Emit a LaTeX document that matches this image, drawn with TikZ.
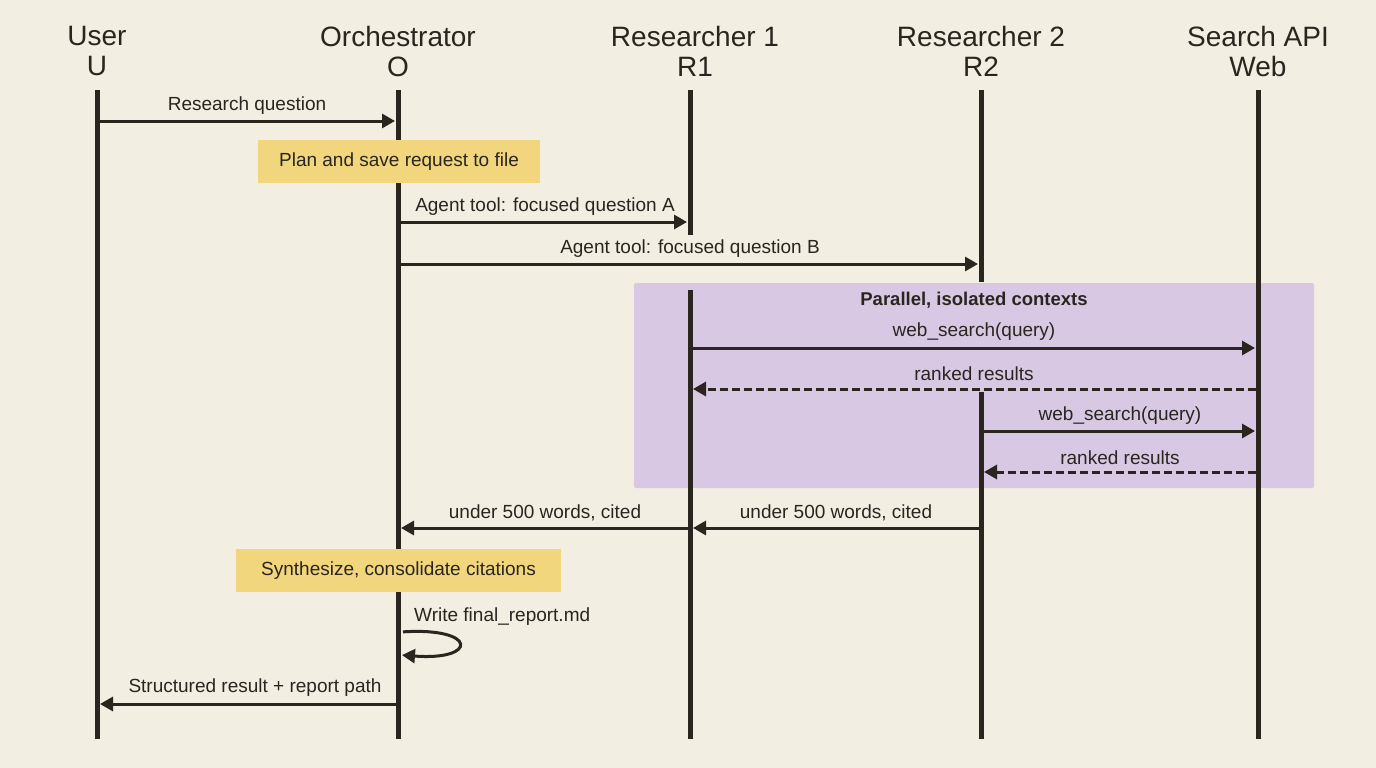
\documentclass[tikz,border=0pt]{standalone}
\usepackage{fontspec}
\setmainfont{Liberation Sans}
\usetikzlibrary{arrows.meta}
\definecolor{bg}{HTML}{F3EEE2}
\definecolor{ink}{HTML}{2A251F}
\definecolor{note}{HTML}{F2D67E}
\definecolor{par}{HTML}{D8C8E4}
\begin{document}
\begin{tikzpicture}[x=1pt,y=-1pt,
  life/.style={line width=5pt,draw=ink},
  head/.style={font=\fontsize{28}{30}\selectfont,text=ink,align=center},
  lbl/.style={font=\fontsize{19}{21}\selectfont,text=ink,inner sep=0pt},
  msg/.style={line width=3pt,draw=ink,-{Triangle[length=13pt,width=14pt]},shorten >=3pt,shorten <=2pt},
  ret/.style={msg,dash pattern=on 8pt off 4pt},
  notebox/.style={fill=note,font=\fontsize{19}{21}\selectfont,text=ink,inner sep=0pt}]
\fill[bg] (0,0) rectangle (1376,768);
\useasboundingbox (0,0) rectangle (1376,768);
% purple
\fill[par,rounded corners=2pt] (634,283) rectangle (1314,488);
\node[lbl,font=\fontsize{18.5}{20}\selectfont\bfseries] (ptitle) at (974,300) {Parallel, isolated contexts};
% headers
\node[head] (hU) at (97,51) {User\\U};
\node[head] (hO) at (398,51) {Orchestrator\\O};
\node[head] (hR1) at (695,51) {Researcher 1\\R1};
\node[head] (hR2) at (981,51) {Researcher 2\\R2};
\node[head] (hW) at (1258,51) {Search API\\Web};
% lifelines
\coordinate (Ut) at (97,90); \coordinate (Ub) at (97,739);
\coordinate (Ot) at (398,90); \coordinate (Ob) at (398,739);
\coordinate (R1t) at (690,90); \coordinate (R1a) at (690,235);
\coordinate (R1c) at (690,290); \coordinate (R1b) at (690,739);
\coordinate (R2t) at (981,90); \coordinate (R2a) at (981,282);
\coordinate (R2c) at (981,392); \coordinate (R2b) at (981,739);
\coordinate (Wt) at (1258,90); \coordinate (Wb) at (1258,739);
\draw[life] (Ut)--(Ub); \draw[life] (Ot)--(Ob);
\draw[life] (R1t)--(R1a); \draw[life] (R1c)--(R1b);
\draw[life] (R2t)--(R2a); \draw[life] (R2c)--(R2b);
\draw[life] (Wt)--(Wb);
% messages
\coordinate (m1a) at (97,121); \coordinate (m1b) at (398,121);
\draw[msg] (m1a)--(m1b);
\node[lbl] (l1) at (247,106) {Research question};
\node[notebox,minimum width=282pt,minimum height=43pt] (n1) at (399,161.5) {Plan and save request to file};
\coordinate (m2a) at (398,222); \coordinate (m2b) at (690,222);
\draw[msg] (m2a)--(m2b);
\node[lbl] (l2) at (545,207) {Agent tool: focused question A};
\coordinate (m3a) at (398,264); \coordinate (m3b) at (981,264);
\draw[msg] (m3a)--(m3b);
\node[lbl] (l3) at (690,249) {Agent tool: focused question B};
\coordinate (m4a) at (690,348); \coordinate (m4b) at (1258,348);
\draw[msg] (m4a)--(m4b);
\node[lbl] (l4) at (974,332) {web\_search(query)};
\coordinate (m5a) at (1258,389); \coordinate (m5b) at (690,389);
\draw[ret] (m5a)--(m5b);
\node[lbl] (l5) at (974,374) {ranked results};
\coordinate (m6a) at (981,431); \coordinate (m6b) at (1258,431);
\draw[msg] (m6a)--(m6b);
\node[lbl] (l6) at (1120,416) {web\_search(query)};
\coordinate (m7a) at (1258,472); \coordinate (m7b) at (981,472);
\draw[ret] (m7a)--(m7b);
\node[lbl] (l7) at (1120,458) {ranked results};
\coordinate (m8a) at (690,528); \coordinate (m8b) at (398,528);
\draw[msg] (m8a)--(m8b);
\node[lbl] (l8) at (545,513) {under 500 words, cited};
\coordinate (m9a) at (981,528); \coordinate (m9b) at (690,528);
\draw[msg] (m9a)--(m9b);
\node[lbl] (l9) at (836,513) {under 500 words, cited};
\node[notebox,minimum width=325pt,minimum height=43pt] (n2) at (398.5,570.5) {Synthesize, consolidate citations};
\node[lbl,anchor=west] (l10) at (414,617) {Write final\_report.md};
\coordinate (s1) at (401,632); \coordinate (s2) at (401,655);
\draw[msg,shorten >=1pt] (s1) .. controls (478,627) and (478,661) .. (s2);
\coordinate (m11a) at (398,704); \coordinate (m11b) at (97,704);
\draw[msg] (m11a)--(m11b);
\node[lbl] (l11) at (255,688) {Structured result + report path};
\end{tikzpicture}
\end{document}
